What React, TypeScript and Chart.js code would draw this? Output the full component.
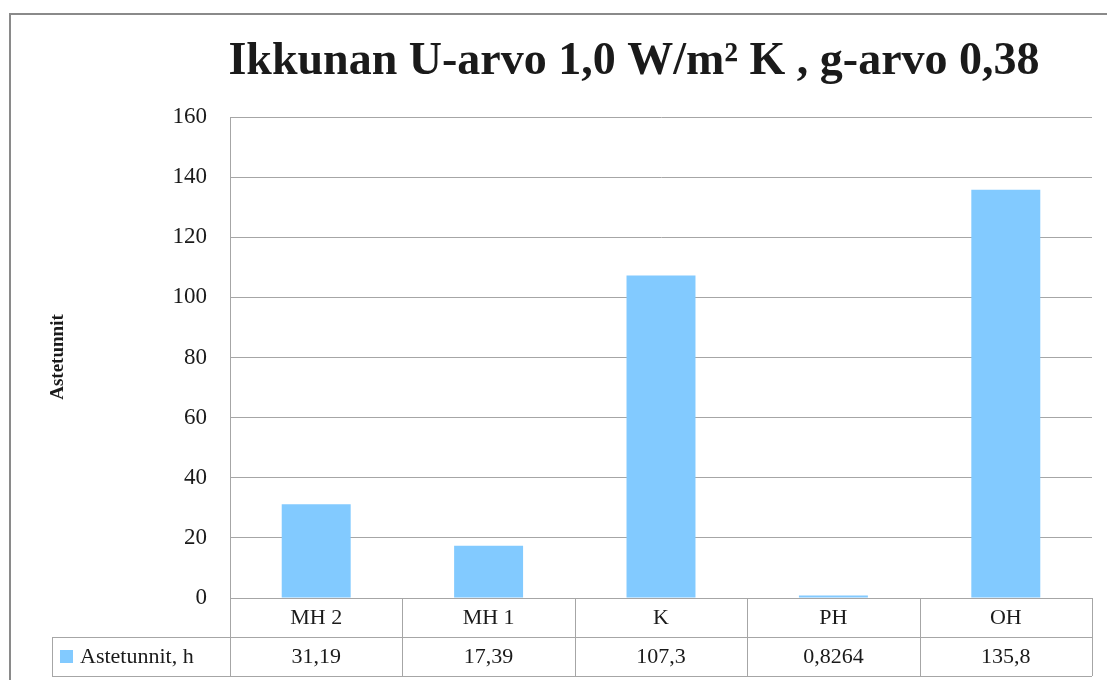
import React, { useEffect, useRef } from "react";
import { Chart, registerables } from "chart.js";

Chart.register(...registerables);

const titleText = "Ikkunan U-arvo 1,0 W/m² K , g-arvo 0,38";
const yAxisTitle = "Astetunnit";
const seriesName = "Astetunnit, h";
const categories = ["MH 2", "MH 1", "K", "PH", "OH"];
const values = [31.19, 17.39, 107.3, 0.8264, 135.8];
const yTicks = [0, 20, 40, 60, 80, 100, 120, 140, 160];

const FONT = "'Liberation Serif', 'DejaVu Serif', serif";
const BAR_COLOR = "rgb(130,202,255)";
const LINE = "#a6a6a6";
const TEXT = "#1a1a1a";

const tablePlugin = {
  id: "tablePlugin",
  afterDraw(chart: any) {
    const ctx = chart.ctx as CanvasRenderingContext2D;
    const area = chart.chartArea;
    const x = chart.scales.x;
    const rowH = 39;
    const legendLeft = 52;
    const y0 = area.bottom;
    const y1 = y0 + rowH;
    const y2 = y1 + rowH;
    ctx.save();
    // outer border
    ctx.strokeStyle = "#8a8a8a";
    ctx.lineWidth = 2;
    ctx.beginPath();
    ctx.moveTo(10, 1000);
    ctx.lineTo(10, 14);
    ctx.lineTo(2000, 14);
    ctx.stroke();

    // title
    ctx.fillStyle = TEXT;
    ctx.font = `bold 46px ${FONT}`;
    ctx.textAlign = "center";
    ctx.textBaseline = "middle";
    ctx.fillText(titleText, 634, 62);

    // y axis title
    ctx.save();
    ctx.translate(58, 357);
    ctx.rotate(-Math.PI / 2);
    ctx.font = `bold 19px ${FONT}`;
    ctx.fillText(yAxisTitle, 0, 0);
    ctx.restore();

    // table lines
    ctx.strokeStyle = LINE;
    ctx.lineWidth = 1;
    const n = categories.length;
    const step = (area.right - area.left) / n;
    ctx.beginPath();
    ctx.moveTo(area.left, y0 + 0.5);
    ctx.lineTo(area.right, y0 + 0.5);
    ctx.moveTo(legendLeft, y1 + 0.5);
    ctx.lineTo(area.right, y1 + 0.5);
    ctx.moveTo(legendLeft, y2 + 0.5);
    ctx.lineTo(area.right, y2 + 0.5);
    ctx.moveTo(legendLeft + 0.5, y1);
    ctx.lineTo(legendLeft + 0.5, y2);
    for (let i = 0; i <= n; i++) {
      const xx = Math.round(area.left + i * step) + 0.5;
      ctx.moveTo(xx, y0);
      ctx.lineTo(xx, y2);
    }
    ctx.stroke();

    // labels
    ctx.fillStyle = TEXT;
    ctx.font = `22px ${FONT}`;
    ctx.textAlign = "center";
    ctx.textBaseline = "middle";
    categories.forEach((c, i) => {
      const cx = x.getPixelForValue(i);
      ctx.fillText(c, cx, y0 + rowH / 2 + 1);
      ctx.fillText(String(values[i]).replace(".", ","), cx, y1 + rowH / 2 + 1);
    });
    // legend cell
    ctx.fillStyle = BAR_COLOR;
    ctx.fillRect(60, y1 + 13, 13, 13);
    ctx.fillStyle = TEXT;
    ctx.textAlign = "left";
    ctx.fillText(seriesName, 80, y1 + rowH / 2 + 1);
    ctx.restore();
  },
};

export default function App() {
  const ref = useRef<HTMLCanvasElement>(null);
  useEffect(() => {
    if (!ref.current) return;
    const chart = new Chart(ref.current, {
      type: "bar",
      data: {
        labels: categories,
        datasets: [
          {
            label: seriesName,
            data: values,
            backgroundColor: BAR_COLOR,
            barPercentage: 0.4,
            categoryPercentage: 1,
          },
        ],
      },
      options: {
        responsive: false,
        animation: false,
        layout: { padding: { left: 0, top: 117, right: 15, bottom: 82 } },
        plugins: { legend: { display: false }, title: { display: false }, tooltip: { enabled: false } },
        scales: {
          x: { display: false },
          y: {
            min: 0,
            max: 160,
            afterFit: (s: any) => {
              s.width = 230;
            },
            afterBuildTicks: (s: any) => {
              s.ticks = yTicks.map((v) => ({ value: v }));
            },
            grid: { color: LINE, drawTicks: false },
            border: { display: true, color: LINE },
            ticks: { padding: 23, color: TEXT, font: { family: FONT, size: 23 } },
          },
        },
      },
      plugins: [tablePlugin],
    });
    return () => chart.destroy();
  }, []);
  return (
    <div style={{ position: "absolute", left: 0, top: 0, width: 1107, height: 680, background: "#fff" }}>
      <canvas ref={ref} width={1107} height={680} style={{ display: "block" }} />
    </div>
  );
}
